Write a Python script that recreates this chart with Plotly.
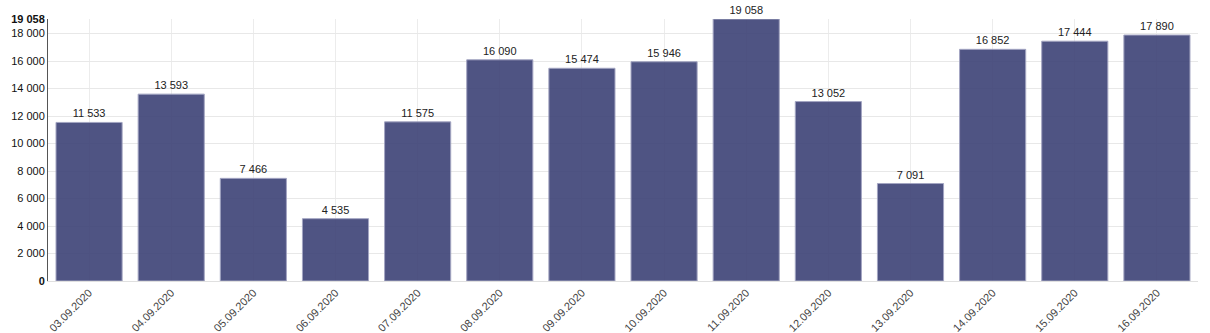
import plotly.graph_objects as go

dates = ["03.09.2020", "04.09.2020", "05.09.2020", "06.09.2020", "07.09.2020",
         "08.09.2020", "09.09.2020", "10.09.2020", "11.09.2020", "12.09.2020",
         "13.09.2020", "14.09.2020", "15.09.2020", "16.09.2020"]
values = [11533, 13593, 7466, 4535, 11575, 16090, 15474, 15946, 19058, 13052,
          7091, 16852, 17444, 17890]
ytick_vals = [0, 2000, 4000, 6000, 8000, 10000, 12000, 14000, 16000, 18000, 19058]
ytick_text = ["<b>0</b>", "2 000", "4 000", "6 000", "8 000", "10 000", "12 000",
              "14 000", "16 000", "18 000", "<b>19 058</b>"]

fig = go.Figure(go.Bar(
    x=dates, y=values,
    marker=dict(color="#3d4276", opacity=0.9, line=dict(color="#9a9cbc", width=1)),
    text=[f"{v:,}".replace(",", " ") for v in values],
    textposition="outside",
    textfont=dict(family="Liberation Sans, Arial", size=11, color="#222"),
    cliponaxis=False,
))

fig.update_layout(
    width=1210, height=333,
    margin=dict(l=48, r=12, t=19, b=52),
    paper_bgcolor="white", plot_bgcolor="white",
    bargap=0.195,
    showlegend=False,
    font=dict(family="Liberation Sans, Arial", size=11, color="#222"),
    xaxis=dict(
        tickangle=-45, showgrid=True, gridcolor="#ececec", gridwidth=1,
        tickfont=dict(size=11, color="#444"), ticks="", showline=True,
        linecolor="#e0e0e0", linewidth=1, automargin=False,
    ),
    yaxis=dict(
        range=[0, 19058], tickvals=ytick_vals, ticktext=ytick_text,
        showgrid=True, gridcolor="#e8e8e8", gridwidth=1,
        showline=True, linecolor="#555", linewidth=1, zeroline=False,
        tickfont=dict(size=11, color="#111"), ticks="", automargin=False,
    ),
)

fig.write_html("out.html")
